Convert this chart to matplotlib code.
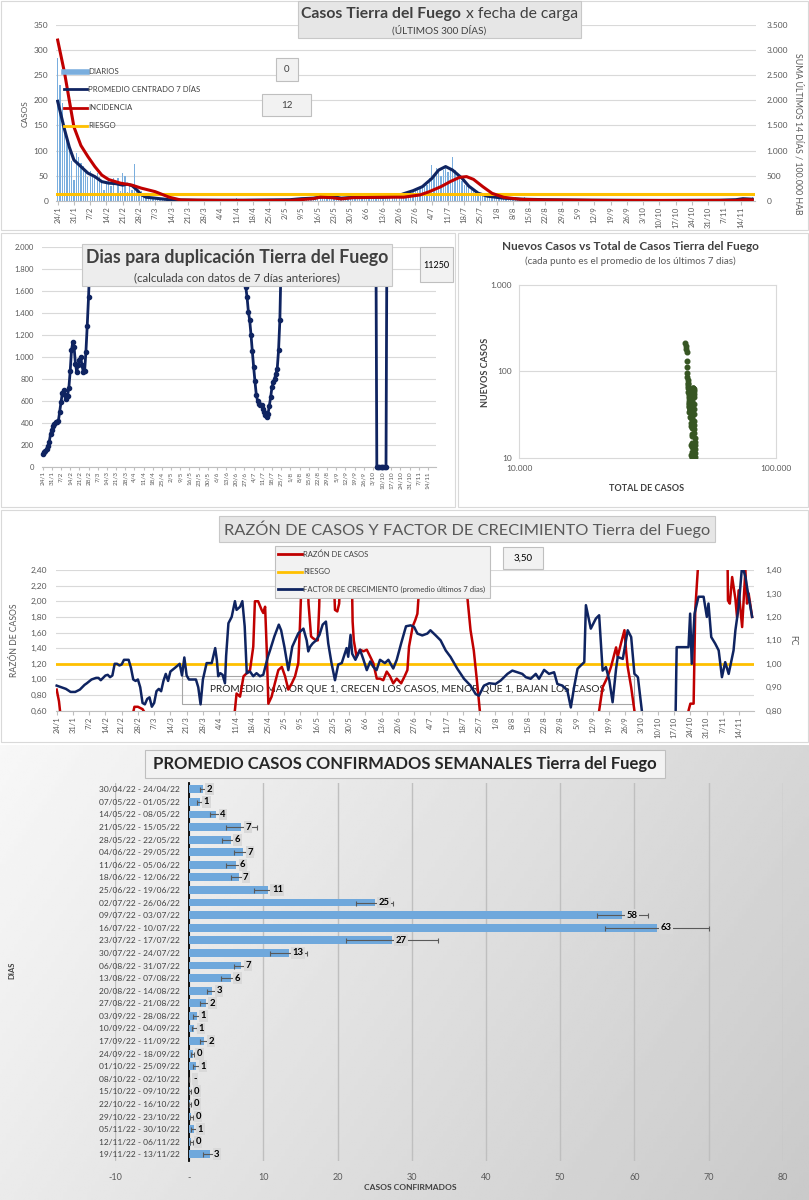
import numpy as np
import pandas as pd
import matplotlib
matplotlib.use("Agg")
import matplotlib.pyplot as plt
from matplotlib.patches import Rectangle
from matplotlib.lines import Line2D
from matplotlib.ticker import NullLocator

plt.rcParams['font.family'] = ['Lato', 'DejaVu Sans']

W, H = 809, 1200
GRIS_TXT = '#595959'
GRIS_OSC = '#404040'
GRIS_GRID = '#D9D9D9'
AZUL = '#0F2461'
ROJO = '#C00000'
AMARILLO = '#FFC000'
CELESTE = '#7AAEDE'

# ---- datos ----
FECHAS = ["24/1", "31/1", "7/2", "14/2", "21/2", "28/2", "7/3", "14/3", "21/3", "28/3",
          "4/4", "11/4", "18/4", "25/4", "2/5", "9/5", "16/5", "23/5", "30/5", "6/6",
          "13/6", "20/6", "27/6", "4/7", "11/7", "18/7", "25/7", "1/8", "8/8", "15/8",
          "22/8", "29/8", "5/9", "12/9", "19/9", "26/9", "3/10", "10/10", "17/10", "24/10",
          "31/10", "7/11", "14/11"]

# casos diarios desde el 24/1 (una fila por semana)
DIARIOS = [
    285, 230, 195, 150, 120, 100, 80,
    42, 95, 88, 75, 70, 58, 48,
    60, 52, 45, 55, 48, 40, 22,
    38, 45, 30, 45, 15, 45, 20,
    55, 50, 18, 32, 22, 73, 28,
    15, 20, 10, 8, 12, 5, 6,
    4, 3, 5, 2, 3, 2, 1,
    2, 1, 1, 2, 0, 1, 1,
    1, 0, 2, 1, 0, 1, 0,
    0, 1, 0, 1, 0, 0, 1,
    1, 0, 0, 1, 0, 2, 3,
    5, 1, 0, 1, 0, 1, 0,
    1, 0, 1, 0, 1, 2, 1,
    2, 3, 1, 2, 1, 3, 2,
    1, 2, 1, 1, 2, 1, 2,
    3, 5, 3, 4, 3, 5, 5,
    8, 6, 10, 7, 9, 4, 6,
    4, 5, 7, 6, 5, 6, 5,
    9, 7, 8, 8, 6, 8, 10,
    7, 5, 6, 5, 6, 5, 7,
    6, 9, 7, 5, 6, 7, 10,
    8, 12, 8, 15, 10, 11, 18,
    20, 22, 28, 25, 30, 32, 45,
    72, 48, 66, 60, 50, 62, 70,
    58, 62, 88, 62, 50, 52, 40,
    32, 30, 28, 22, 20, 17, 18,
    16, 14, 12, 11, 10, 9, 8,
    7, 6, 8, 6, 7, 7, 6,
    5, 7, 6, 5, 6, 7, 3,
    4, 2, 3, 4, 2, 3, 2,
    3, 1, 2, 2, 3, 1, 1,
    1, 0, 2, 1, 1, 1, 1,
    0, 1, 1, 0, 1, 1, 2,
    3, 1, 3, 2, 2, 1, 0,
    1, 0, 1, 0, 0, 1, 1,
    0, 2, 1, 0, 1, 1, 0,
    0, 0, 0, 0, 0, 0, 0,
    0, 0, 1, 0, 0, 0, 0,
    0, 0, 0, 1, 0, 0, 0,
    1, 0, 0, 1, 0, 0, 1,
    0, 1, 0, 1, 1, 0, 0,
    0, 1, 0, 0, 1, 0, 1,
    2, 3, 1, 4, 2, 7,
]

PROM_DIA = [0, 3, 5, 7, 10, 13, 16, 19, 22, 25, 28, 30, 32, 34, 36, 38, 42, 48, 60, 80,
            100, 105, 110, 113, 116, 119, 122, 125, 130, 140, 146, 149, 153, 157, 161,
            164, 167, 170, 174, 177, 181, 185, 192, 200, 210, 230, 260, 285, 292, 295, 299]
PROM = [198, 141, 107, 81, 68, 55, 48, 38, 35, 34, 31, 33, 30, 22, 12, 7, 5, 2, 1, 1,
        2, 4, 5, 7, 9, 8, 5, 6, 7, 7, 9, 14, 20, 28, 44,
        61, 68, 61, 45, 29, 15, 9, 5, 3, 2, 1, 0.5, 1, 2, 4, 3]

INC_DIA = [0, 3, 5, 7, 10, 13, 16, 19, 22, 27, 32, 36, 42, 48, 53, 70, 100, 110, 113, 118,
           122, 127, 135, 145, 149, 156, 160, 165, 169, 173, 176, 179, 183, 187, 192, 199,
           209, 240, 280, 292, 296, 299]
INCIDENCIA = [3200, 2540, 2000, 1470, 1100, 880, 680, 510, 420, 350, 310, 250, 180, 70, 14,
              5, 5, 40, 70, 60, 35, 60, 65, 70, 70, 115, 180, 280, 380, 465, 480, 425, 280,
              147, 68, 28, 14, 5, 5, 5, 20, 15]
RIESGO_INC = 140

DUP_DIA = list(range(0, 38)) + list(range(154, 184)) + [254] + list(range(255, 263)) + [263]
DUPLICACION = [118, 135, 150, 165, 190, 230, 300, 340, 375, 395, 410, 415, 420, 505, 590,
               670, 698, 660, 620, 650, 720, 870, 1060, 1136, 1090, 940, 864, 925, 970, 1000,
               925, 864, 870, 1045, 1280, 1540, 1850, 2600,
               3000, 1634, 1540, 1408, 1332, 1200, 1050, 909, 780, 660, 600, 575, 565, 568,
               532, 500, 470, 456, 486, 560, 637, 728, 770, 804, 850, 894, 1060, 1332, 1891,
               3000,
               3000, 0, 0, 0, 0, 0, 0, 0, 0, 3000]
TOTAL_INICIAL = 44100

RAZON_DIA = [0, 1, 2, 32, 33.5, 35, 37, 38.5, 40, 76, 76.8, 77.5, 79, 80.5, 81.9, 83.3, 84.7,
             85.4, 86.8, 88.3, 89, 89.8, 90.5, 91.2, 92.6, 94, 95.5, 97, 98.4, 99.8, 101.3,
             102.7, 104.1, 104.8, 105.5, 106, 107.8, 108.5, 109.6, 110.3, 111.8, 112.5, 113.1,
             113.6, 119, 119.9, 120.9, 121.7, 122.5, 127, 127.5, 128, 129.2, 130.7, 132.2,
             133.6, 135.1, 136.4, 137.9, 139.3, 140.7, 142.2, 143.6, 145, 146.5, 148.4, 149.9,
             151.1, 151.8, 153.4, 154.5, 155.4, 156, 156.6, 157, 175, 175.5, 176.9, 178.3,
             179.7, 181.2, 182.3, 183, 233, 233.7, 235.2, 237.3, 238.8, 241, 241.7, 243.1,
             244.6, 245.3, 246, 247.5, 248.9, 249.5, 272, 272.2, 273, 274.4, 275.1, 276.2,
             276.8, 289, 289.2, 290, 291, 292.4, 293.1, 293.8, 295.3, 296.7, 297.4, 298.1,
             299.6]
RAZON = [0.87, 0.72, 0.45, 0.45, 0.65, 0.65, 0.62, 0.55, 0.45, 0.45, 0.61, 0.82, 0.78, 1.04,
         1.08, 1.12, 1.42, 2.00, 2.00, 1.89, 1.85, 1.93, 1.38, 0.69, 0.78, 0.95, 1.12, 1.16,
         1.04, 0.87, 0.95, 1.04, 1.21, 1.68, 2.27, 2.6, 2.6, 1.97, 1.55, 1.53, 1.50, 1.50,
         1.93, 2.6, 2.6, 1.89, 1.87, 1.97, 2.6, 2.6, 1.74, 1.50, 1.29, 1.38, 1.36, 1.38, 1.29,
         1.21, 1.01, 1.01, 0.99, 1.10, 1.04, 0.95, 1.01, 0.95, 1.04, 1.12, 1.42, 1.68, 1.76,
         1.84, 2.10, 2.40, 2.6, 2.6, 2.40, 2.06, 1.63, 1.37, 0.94, 0.60, 0.4, 0.4, 0.60, 0.90,
         1.03, 1.16, 1.41, 1.29, 1.46, 1.63, 1.37, 1.16, 0.90, 0.60, 0.4, 0.4, 0.60, 0.69,
         0.69, 1.89, 2.40, 2.6, 2.6, 2.01, 1.97, 2.31, 2.03, 1.80, 2.14, 1.67, 2.40, 1.97,
         2.10, 1.80]
RIESGO_RAZON = 1.2

FC_DIA = [0, 2, 4, 6, 8, 10, 12, 13, 15, 17, 18, 19, 21, 22, 23, 24, 25, 26, 27, 28, 29, 31,
          32, 33, 34, 35, 36, 37, 38, 39, 40, 41, 42, 43, 44, 45, 46, 47, 48, 49, 51, 53, 54,
          55, 56, 57, 60, 61, 62, 63, 64.6, 66.8, 68.3, 69, 69.6, 70.5, 71.5, 72.5, 73, 74,
          75.4, 76.8, 77.5, 79, 80, 81, 81.9, 83.3, 84.7, 86.1, 87.6, 89, 91, 92, 93.8, 95.7,
          96.7, 98.1, 99.8, 101.5, 104.1, 106.3, 107.7, 108.4, 109.2, 110.3, 111.8, 113.2,
          114.6, 116, 117, 118.4, 119.9, 121.3, 122.8, 124.9, 125.6, 126.6, 127.3, 128.7,
          130.7, 132.2, 133.6, 135.1, 136.4, 137.8, 139.3, 141.4, 142.9, 145, 146.5, 148.4,
          150.5, 152.5, 154, 155.4, 157.5, 159.7, 161, 163.3, 165.4, 167.6, 169.7, 172.6,
          175.5, 178.3, 180.5, 181.9, 184.1, 186.3, 189.1, 191.3, 194.2, 196.3, 198.5, 200.6,
          202.1, 204.2, 206.4, 207.8, 210, 212.1, 214.3, 215.7, 217.9, 220, 221.5, 222.9,
          224.4, 225.8, 227.3, 228, 230.1, 232.3, 233.7, 235.2, 236.6, 238.1, 239.5, 241,
          241.7, 243.9, 246, 247.5, 248.9, 250.4, 252.1, 253, 266.5, 267.1, 272.2, 272.9,
          273.6, 274.8, 276.5, 278.7, 280.1, 280.8, 282, 283.7, 285.2, 286.6, 288, 289.5,
          291.6, 292.4, 293.8, 295.3, 296.7, 298.1, 299.6]
FC = [0.907, 0.90, 0.893, 0.88, 0.88, 0.89, 0.91, 0.917, 0.933, 0.94, 0.94, 0.93, 0.95, 0.953,
      0.943, 0.95, 1.00, 1.00, 0.993, 0.997, 1.017, 1.017, 0.983, 0.933, 0.927, 0.933, 0.90,
      0.833, 0.827, 0.85, 0.857, 0.817, 0.833, 0.883, 0.893, 0.883, 0.927, 0.957, 0.927,
      0.967, 0.983, 1.00, 0.95, 1.027, 0.95, 0.933, 0.933, 0.90, 0.827, 0.933, 1.003, 1.003,
      1.067, 1.017, 0.947, 0.96, 0.953, 0.917, 1.033, 1.173, 1.20, 1.267, 1.23, 1.243, 1.267,
      1.16, 0.96, 0.967, 0.947, 0.96, 0.947, 0.953, 1.03, 1.06, 1.117, 1.167, 1.143, 1.073,
      0.973, 1.073, 1.13, 1.15, 1.10, 1.053, 1.073, 1.087, 1.10, 1.123, 1.167, 1.18, 1.087,
      1.003, 0.93, 0.997, 1.003, 1.067, 1.03, 1.123, 1.043, 1.017, 1.06, 1.017, 0.973, 1.01,
      0.987, 0.973, 1.017, 1.003, 1.017, 0.98, 1.017, 1.087, 1.16, 1.164, 1.157, 1.129,
      1.121, 1.129, 1.143, 1.121, 1.10, 1.057, 1.029, 0.979, 0.936, 0.907, 0.871, 0.864,
      0.907, 0.917, 0.914, 0.929, 0.957, 0.971, 0.964, 0.957, 0.943, 0.936, 0.957, 0.936,
      0.974, 0.957, 0.964, 0.914, 0.907, 0.886, 0.814, 0.90, 0.979, 0.993, 1.007, 1.25, 1.15,
      1.193, 1.207, 0.971, 0.986, 0.929, 0.836, 0.979, 1.029, 1.021, 1.143, 1.114, 0.957,
      0.943, 0.80, 0.70, 0.70, 1.071, 1.071, 1.214, 1.00, 1.214, 1.286, 1.286, 1.20, 1.257,
      1.114, 1.086, 1.057, 0.943, 1.007, 0.957, 1.057, 1.143, 1.243, 1.42, 1.371, 1.286, 1.20]

SEMANAS = ["30/04/22 - 24/04/22", "07/05/22 - 01/05/22", "14/05/22 - 08/05/22",
           "21/05/22 - 15/05/22", "28/05/22 - 22/05/22", "04/06/22 - 29/05/22",
           "11/06/22 - 05/06/22", "18/06/22 - 12/06/22", "25/06/22 - 19/06/22",
           "02/07/22 - 26/06/22", "09/07/22 - 03/07/22", "16/07/22 - 10/07/22",
           "23/07/22 - 17/07/22", "30/07/22 - 24/07/22", "06/08/22 - 31/07/22",
           "13/08/22 - 07/08/22", "20/08/22 - 14/08/22", "27/08/22 - 21/08/22",
           "03/09/22 - 28/08/22", "10/09/22 - 04/09/22", "17/09/22 - 11/09/22",
           "24/09/22 - 18/09/22", "01/10/22 - 25/09/22", "08/10/22 - 02/10/22",
           "15/10/22 - 09/10/22", "22/10/22 - 16/10/22", "29/10/22 - 23/10/22",
           "05/11/22 - 30/10/22", "12/11/22 - 06/11/22", "19/11/22 - 13/11/22"]
SEMANAL = [1.8, 1.4, 3.6, 7.0, 5.6, 7.3, 6.3, 6.7, 10.6, 25.0, 58.4, 63.0, 27.3, 13.4, 7.0,
           5.6, 3.1, 2.2, 1.0, 0.7, 2.0, 0.45, 0.9, 0.0, 0.1, 0.1, 0.3, 0.6, 0.3, 2.8]
SEMANAL_ERR = [0.4, 0.3, 0.8, 2.1, 1.2, 1.3, 1.4, 1.1, 1.8, 2.5, 3.4, 7.0, 6.2, 2.5, 1.0,
               1.3, 0.7, 0.7, 0.45, 0.35, 0.6, 0.25, 0.4, 0.0, 0.15, 0.15, 0.25, 0.4, 0.25, 0.9]
SEMANAL_ETIQ = ['2', '1', '4', '7', '6', '7', '6', '7', '11', '25', '58', '63', '27', '13',
                '7', '6', '3', '2', '1', '1', '2', '0', '1', '-', '0', '0', '0', '1', '0', '3']


def rect(l, t, r, b):
    return [l / W, 1 - b / H, (r - l) / W, (b - t) / H]


fig = plt.figure(figsize=(W / 100, H / 100), dpi=100)


def caja(x0, y0, x1, y1, fc='#F2F2F2', ec='#BFBFBF', z=5, lw=0.8):
    fig.add_artist(Rectangle((x0 / W, 1 - y1 / H), (x1 - x0) / W, (y1 - y0) / H,
                             transform=fig.transFigure, fc=fc, ec=ec, lw=lw, zorder=z))


def texto(x, y, s, **kw):
    kw.setdefault('ha', 'center')
    kw.setdefault('va', 'center')
    kw.setdefault('zorder', 6)
    kw.setdefault('color', GRIS_OSC)
    fig.text(x / W, 1 - y / H, s, **kw)


def linea(x0, x1, y, color, lw):
    fig.add_artist(Line2D([x0 / W, x1 / W], [1 - y / H, 1 - y / H], color=color, lw=lw,
                          transform=fig.transFigure, zorder=6))


def miles(v):
    return f"{v:,.0f}".replace(",", ".")


def coma(v):
    return f"{v:.2f}".replace(".", ",")


def limpiar(ax):
    for s in ax.spines.values():
        s.set_visible(False)


pos_fechas = np.arange(len(FECHAS)) * 7

# bordes de paneles
caja(1, 1, 808, 230, fc='none', ec=GRIS_GRID, z=0.5)
caja(1, 233, 455, 507, fc='none', ec=GRIS_GRID, z=0.5)
caja(458, 233, 808, 507, fc='none', ec=GRIS_GRID, z=0.5)
caja(1, 510, 808, 742, fc='none', ec=GRIS_GRID, z=0.5)

# ---- panel 1: casos diarios ----
ax1 = fig.add_axes(rect(56.5, 25, 755.5, 200.7))
dias = np.arange(len(DIARIOS))
ax1.bar(dias, DIARIOS, width=0.55, color=CELESTE, zorder=2)
ax1.plot(PROM_DIA, PROM, color=AZUL, lw=2.2, zorder=4)
ax1.set_ylim(0, 350)
ax1.set_xlim(-0.5, 300.4)
ax1.set_yticks(np.arange(0, 351, 50))
ax1.grid(axis='y', color=GRIS_GRID, lw=0.8, zorder=0)
ax1.set_axisbelow(True)
ax1.set_xticks(pos_fechas, FECHAS, rotation=90, fontsize=5.5, color=GRIS_TXT)
ax1.tick_params(axis='x', length=3, color='#BFBFBF', pad=1)
ax1.tick_params(axis='y', length=0, labelsize=6, labelcolor=GRIS_TXT, pad=6)
limpiar(ax1)
ax1.spines['bottom'].set_visible(True)
ax1.spines['bottom'].set_color('#BFBFBF')
ax1b = ax1.twinx()
ax1b.plot(INC_DIA, INCIDENCIA, color=ROJO, lw=2.2, zorder=3)
ax1b.axhline(RIESGO_INC, color=AMARILLO, lw=2.2, zorder=2)
ax1b.set_ylim(0, 3500)
ax1b.set_yticks(np.arange(0, 3501, 500), [miles(v) for v in np.arange(0, 3501, 500)])
ax1b.tick_params(axis='y', length=0, labelsize=6, labelcolor=GRIS_TXT, pad=8)
limpiar(ax1b)
texto(25, 114, "CASOS", rotation=90, fontsize=6, color=GRIS_TXT)
texto(798, 134, "SUMA ÚLTIMOS 14 DÍAS / 100.000 HAB", rotation=-90, fontsize=6.3, color=GRIS_TXT)

caja(298, 1, 581, 38, fc='#E6E6E6', ec='#C8C8C8')
texto(461, 14, "Casos Tierra del Fuego", ha='right', fontsize=11.3, fontweight='bold')
texto(466, 14, "x fecha de carga", ha='left', fontsize=11.3)
texto(439, 30, "(ÚLTIMOS 300 DÍAS)", fontsize=7.2)
caja(276, 58, 298, 81)
texto(287, 70, "0", fontsize=7)
caja(262, 94, 311, 116)
texto(286.5, 105, "12", fontsize=7)
for y, col, lw, lab in [(71.7, CELESTE, 4, "DIARIOS"), (89.3, AZUL, 2, "PROMEDIO CENTRADO 7 DÍAS"),
                        (107.7, ROJO, 2, "INCIDENCIA"), (126, AMARILLO, 2, "RIESGO")]:
    linea(64, 87, y, col, lw)
    texto(88, y, lab, ha='left', fontsize=5.6)

# ---- panel 2: dias para duplicacion ----
ax2 = fig.add_axes(rect(42.0, 246.7, 435.8, 467.3))
ax2.plot(DUP_DIA, DUPLICACION, color=AZUL, lw=2, zorder=3)
dup = np.array(DUPLICACION)
visibles = dup <= 2000
ax2.plot(np.array(DUP_DIA)[visibles], dup[visibles], ls='none', marker='o', ms=3,
         color=AZUL, clip_on=False, zorder=4)
ax2.set_ylim(0, 2000)
ax2.set_xlim(-0.5, 300)
ax2.set_yticks(np.arange(0, 2001, 200), [miles(v) for v in np.arange(0, 2001, 200)])
ax2.grid(axis='y', color=GRIS_GRID, lw=0.8, zorder=0)
ax2.set_axisbelow(True)
ax2.set_xticks(pos_fechas, FECHAS, rotation=90, fontsize=4.6, color=GRIS_TXT)
ax2.tick_params(axis='x', length=2, color='#BFBFBF', pad=1)
ax2.tick_params(axis='y', length=0, labelsize=5.5, labelcolor=GRIS_TXT, pad=6)
limpiar(ax2)
ax2.spines['bottom'].set_visible(True)
ax2.spines['bottom'].set_color('#BFBFBF')
caja(82, 244, 392, 286, fc='#EDEDED', ec='#C8C8C8')
texto(237, 258, "Dias para duplicación Tierra del Fuego", fontsize=12.8, fontweight='bold')
texto(237, 278, "(calculada con datos de 7 días anteriores)", fontsize=8.3)
caja(420, 247, 453, 282)
texto(436.5, 266, "11250", fontsize=6.5, color='black')

# ---- panel 3: nuevos vs total ----
serie = pd.Series(DIARIOS, dtype=float)
nuevos = serie.rolling(7, center=True, min_periods=1).mean()
total = TOTAL_INICIAL + serie.cumsum()
ax3 = fig.add_axes(rect(519, 284.7, 775.7, 458))
ax3.scatter(total, nuevos, s=11, color='#375623', zorder=3)
ax3.set_xscale('log')
ax3.set_yscale('log')
ax3.set_xlim(1e4, 1e5)
ax3.set_ylim(10, 1000)
ax3.xaxis.set_minor_locator(NullLocator())
ax3.yaxis.set_minor_locator(NullLocator())
ax3.set_xticks([1e4, 1e5], ["10.000", "100.000"])
ax3.set_yticks([10, 100, 1000], ["10", "100", "1.000"])
ax3.axhline(100, color=GRIS_GRID, lw=0.8, zorder=0)
ax3.tick_params(length=0, labelsize=6, labelcolor=GRIS_TXT, pad=5)
for s in ax3.spines.values():
    s.set_color(GRIS_GRID)
texto(630, 246, "Nuevos Casos vs Total de Casos Tierra del Fuego", fontsize=8.5, fontweight='bold')
texto(630, 261, "(cada punto es el promedio de los últimos 7 dias)", fontsize=7.1, color=GRIS_TXT)
texto(485, 372, "NUEVOS CASOS", rotation=90, fontsize=6.5, fontweight='bold')
texto(647, 488, "TOTAL DE CASOS", fontsize=6.5, fontweight='bold')

# ---- panel 4: razon y factor de crecimiento ----
ax4 = fig.add_axes(rect(55.5, 570, 754.2, 710.7))
ax4.plot(RAZON_DIA, RAZON, color=ROJO, lw=1.8, zorder=3)
ax4.axhline(RIESGO_RAZON, color=AMARILLO, lw=2, zorder=2)
ax4.set_ylim(0.6, 2.4)
ax4.set_xlim(-0.5, 300.5)
ticks_r = np.arange(0.6, 2.41, 0.2)
ax4.set_yticks(ticks_r, [coma(v) for v in ticks_r])
ax4.grid(axis='y', color=GRIS_GRID, lw=0.8, zorder=0)
ax4.set_axisbelow(True)
ax4.set_xticks(pos_fechas, FECHAS, rotation=90, fontsize=5.5, color=GRIS_TXT)
ax4.tick_params(axis='x', length=3, color='#BFBFBF', pad=1)
ax4.tick_params(axis='y', length=0, labelsize=6, labelcolor=GRIS_TXT, pad=6)
limpiar(ax4)
ax4.spines['bottom'].set_visible(True)
ax4.spines['bottom'].set_color('#BFBFBF')
ax4b = ax4.twinx()
ax4b.plot(FC_DIA, FC, color=AZUL, lw=1.8, zorder=3)
ax4b.set_ylim(0.8, 1.4)
ticks_fc = np.arange(0.8, 1.41, 0.1)
ax4b.set_yticks(ticks_fc, [coma(v) for v in ticks_fc])
ax4b.tick_params(axis='y', length=0, labelsize=6, labelcolor=GRIS_TXT, pad=8)
limpiar(ax4b)
ax4.add_patch(Rectangle((182 / W, 1 - 704.3 / H), (634 - 182) / W, (704.3 - 675.7) / H,
                        transform=fig.transFigure, fill=False, ec='#A6A6A6', lw=0.8,
                        zorder=1, clip_on=False))
ax4.text(408 / W, 1 - 690 / H, "PROMEDIO MAYOR QUE 1, CRECEN LOS CASOS, MENOR QUE 1, BAJAN LOS CASOS",
         transform=fig.transFigure, ha='center', va='center', fontsize=7.3, color='#262626',
         zorder=1, clip_on=False)
texto(15, 640, "RAZÓN DE CASOS", rotation=90, fontsize=6.2, color=GRIS_TXT)
texto(793, 640, "FC", rotation=-90, fontsize=6.2, color=GRIS_TXT)
caja(219, 516, 715, 542, fc='#E6E6E6', ec='#C8C8C8')
texto(467, 529.5, "RAZÓN DE CASOS Y FACTOR DE CRECIMIENTO Tierra del Fuego", fontsize=11.8,
      color=GRIS_TXT)
caja(275, 546, 490, 598)
for y, col, lab in [(554.3, ROJO, "RAZÓN DE CASOS"), (571.7, AMARILLO, "RIESGO"),
                    (589, AZUL, "FACTOR DE CRECIMIENTO (promedio últimos 7 dias)")]:
    linea(278, 302, y, col, 2)
    texto(303, y, lab, ha='left', fontsize=5.5)
caja(503, 547, 543, 569)
texto(523, 558, "3,50", fontsize=7, color='black')

# ---- panel 5: promedio semanal ----
ax_bg = fig.add_axes([0, 0, 1, 455 / H], zorder=-1)
gx, gy = np.meshgrid(np.linspace(0, 1, 200), np.linspace(0, 1, 200))
ax_bg.imshow(0.97 - 0.13 * gx - 0.05 * gy, cmap='gray', vmin=0, vmax=1, aspect='auto',
             extent=[0, 1, 0, 1])
ax_bg.axis('off')

ax5 = fig.add_axes(rect(115, 783, 782.7, 1160.6))
ax5.set_facecolor('none')
pos = np.arange(len(SEMANAS))
ax5.barh(pos, SEMANAL, height=0.62, color='#6FA8DC', zorder=3,
         xerr=SEMANAL_ERR, error_kw=dict(ecolor='#595959', elinewidth=0.8, capsize=1.8,
                                        capthick=0.8, zorder=4))
for p, v, lab in zip(pos, SEMANAL, SEMANAL_ETIQ):
    ax5.text(v + 0.55, p, lab, ha='left', va='center', fontsize=6.8, fontweight='bold',
             color='black', zorder=5,
             bbox=dict(boxstyle='square,pad=0.15', fc='#D9D9D9', ec='none'))
ax5.set_xlim(-10, 80)
ax5.set_ylim(len(SEMANAS) - 0.5, -0.5)
ax5.set_xticks(np.arange(-10, 81, 10), ["-10", "-"] + [str(v) for v in range(10, 81, 10)])
ax5.set_yticks(pos, SEMANAS)
ax5.grid(axis='x', color='#BFBFBF', lw=1, zorder=0)
limpiar(ax5)
# eje vertical en x = 0, con las etiquetas de semana pegadas a él
ax5.spines['left'].set_position(('data', 0))
ax5.spines['left'].set_visible(True)
ax5.spines['left'].set_color('black')
ax5.spines['left'].set_linewidth(1.3)
ax5.spines['left'].set_zorder(2)
ax5.tick_params(axis='x', length=0, labelsize=6.5, labelcolor=GRIS_TXT, pad=9)
ax5.tick_params(axis='y', length=0, labelsize=6, labelcolor=GRIS_OSC, pad=7)
caja(145, 750, 665, 778)
texto(405, 764, "PROMEDIO CASOS CONFIRMADOS SEMANALES Tierra del Fuego", fontsize=12,
      fontweight='bold', color='#262626')
texto(12, 970, "DIAS", rotation=90, fontsize=5.5, fontweight='bold', color=GRIS_OSC)
texto(410, 1188, "CASOS CONFIRMADOS", fontsize=6, fontweight='bold', color=GRIS_OSC)

fig.savefig("out.png", dpi=100)
